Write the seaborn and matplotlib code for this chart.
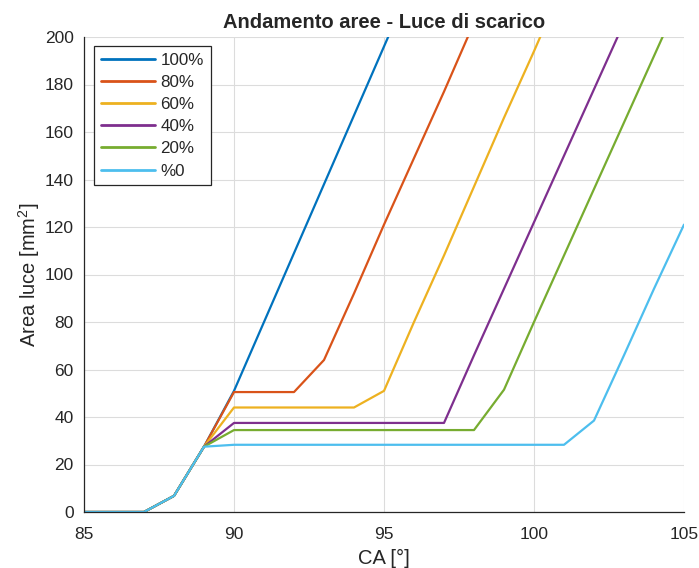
import numpy as np
import pandas as pd
import matplotlib
matplotlib.use("Agg")
import matplotlib.pyplot as plt
import seaborn as sns

ca = [85, 86, 87, 88, 89, 90, 91, 92, 93, 94, 95, 96, 97, 98, 99, 100, 101, 102, 103, 104, 105]

s100 = [0, 0, 0, 6.8, 27.5, 51, 80, 109, 138, 167, 196, 225, 254, 283, 312, 341, 370, 399, 428, 457, 486]
s80 = [0, 0, 0, 6.8, 27.5, 50.5, 50.5, 50.5, 64, 92, 121, 149, 177, 206, 234, 262, 290, 318, 346, 374, 402]
s60 = [0, 0, 0, 6.8, 27.5, 44, 44, 44, 44, 44, 51, 80, 108, 137, 166, 194, 223, 252, 280, 308, 336]
s40 = [0, 0, 0, 6.8, 27.5, 37.5, 37.5, 37.5, 37.5, 37.5, 37.5, 37.5, 37.5, 66, 94, 122, 150, 178, 206, 234, 262]
s20 = [0, 0, 0, 6.8, 27.5, 34.5, 34.5, 34.5, 34.5, 34.5, 34.5, 34.5, 34.5, 34.5, 51.5, 80, 108, 136, 164, 192, 220]
s0 = [0, 0, 0, 6.8, 27.5, 28.3, 28.3, 28.3, 28.3, 28.3, 28.3, 28.3, 28.3, 28.3, 28.3, 28.3, 28.3, 38.5, 66, 94, 121]

labels = ["100%", "80%", "60%", "40%", "20%", "%0"]
series = [s100, s80, s60, s40, s20, s0]
colors = ["#0072BD", "#D95319", "#EDB120", "#7E2F8E", "#77AC30", "#4DBEEE"]

rows = []
for lab, vals in zip(labels, series):
    for x, y in zip(ca, vals):
        rows.append({"CA": x, "Area": y, "Serie": lab})
df = pd.DataFrame(rows)

sns.set_style("white")
plt.rcParams["font.family"] = ["Liberation Sans", "DejaVu Sans"]
plt.rcParams["mathtext.fontset"] = "custom"
plt.rcParams["mathtext.rm"] = "Liberation Sans"

fig = plt.figure(figsize=(6.99, 5.68), dpi=100)
ax = fig.add_axes([84 / 699, 1 - 512 / 568, 600 / 699, 475 / 568])

sns.lineplot(data=df, x="CA", y="Area", hue="Serie", hue_order=labels,
             palette=colors, linewidth=1.6, ax=ax, sort=False)

ax.set_xlim(85, 105)
ax.set_ylim(0, 200)
ax.set_xticks([85, 90, 95, 100, 105])
ax.set_yticks(np.arange(0, 201, 20))
ax.grid(True, color="#dcdcdc", linewidth=0.8)
ax.set_axisbelow(True)

for side in ["top", "right"]:
    ax.spines[side].set_visible(False)
for side in ["left", "bottom"]:
    ax.spines[side].set_color("#262626")
    ax.spines[side].set_linewidth(0.9)
ax.tick_params(direction="in", length=5, width=0.9, color="#262626",
               labelsize=12.5, labelcolor="#262626")
ax.tick_params(axis="x", pad=10.5)
ax.tick_params(axis="y", pad=7.5)

ax.set_title("Andamento aree - Luce di scarico", fontsize=14.5, fontweight="bold", pad=6.5)
ax.set_xlabel("CA [°]", fontsize=14.5, color="#262626", labelpad=5)
ax.set_ylabel("Area luce [mm$^2$]", fontsize=14.5, color="#262626", labelpad=2)

leg = ax.legend(loc="upper left", bbox_to_anchor=(10 / 600, 1 - 9 / 475),
                borderaxespad=0, fontsize=12.25, frameon=True, fancybox=False,
                edgecolor="#262626", handlelength=3.2, handletextpad=0.3,
                labelspacing=0.42, borderpad=0.4, title=None)
leg.get_frame().set_linewidth(0.9)
leg.get_frame().set_alpha(1)
for line in leg.get_lines():
    line.set_linewidth(2)

fig.savefig("out.png", dpi=100)
